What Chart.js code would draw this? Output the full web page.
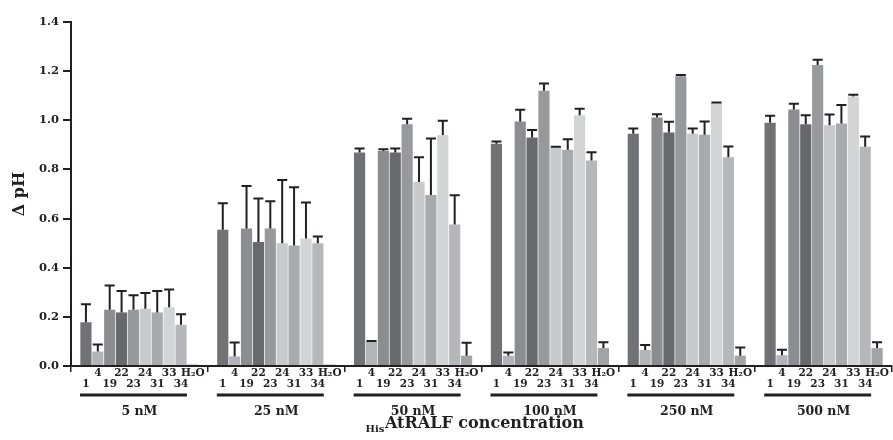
<!DOCTYPE html>
<html><head><meta charset="utf-8">
<script src="https://cdn.jsdelivr.net/npm/chart.js@4.4.1/dist/chart.umd.min.js"></script>
<style>html,body{margin:0;padding:0;background:#fff}#wrap{width:893px;height:440px}</style>
</head><body><div id="wrap"><canvas id="c" width="893" height="440"></canvas></div>
<script>
// ---- data ----
const concentrations = ['5 nM', '25 nM', '50 nM', '100 nM', '250 nM', '500 nM'];
const peptides = ['1', '4', '19', '22', '23', '24', '31', '33', '34', 'H₂O'];
const yTickValues = [0.0, 0.2, 0.4, 0.6, 0.8, 1.0, 1.2, 1.4];

const mean1  = [0.178, 0.554, 0.869, 0.905, 0.945, 0.990];
const mean4  = [0.059, 0.039, 0.100, 0.042, 0.065, 0.044];
const mean19 = [0.229, 0.560, 0.875, 0.995, 1.011, 1.044];
const mean22 = [0.218, 0.505, 0.869, 0.930, 0.950, 0.984];
const mean23 = [0.229, 0.560, 0.984, 1.120, 1.179, 1.225];
const mean24 = [0.233, 0.500, 0.749, 0.890, 0.945, 0.980];
const mean31 = [0.218, 0.490, 0.696, 0.880, 0.941, 0.987];
const mean33 = [0.239, 0.519, 0.940, 1.021, 1.070, 1.097];
const mean34 = [0.168, 0.500, 0.576, 0.836, 0.850, 0.892];
const meanH2O = [0.006, 0.006, 0.042, 0.073, 0.042, 0.073];

const sd1  = [0.073, 0.108, 0.016, 0.009, 0.022, 0.028];
const sd4  = [0.029, 0.057, 0.002, 0.013, 0.020, 0.022];
const sd19 = [0.099, 0.173, 0.007, 0.048, 0.014, 0.023];
const sd22 = [0.087, 0.177, 0.016, 0.030, 0.044, 0.036];
const sd23 = [0.059, 0.111, 0.022, 0.030, 0.005, 0.021];
const sd24 = [0.064, 0.257, 0.101, 0.002, 0.022, 0.044];
const sd31 = [0.087, 0.237, 0.230, 0.043, 0.054, 0.075];
const sd33 = [0.072, 0.146, 0.058, 0.026, 0.002, 0.007];
const sd34 = [0.043, 0.027, 0.119, 0.034, 0.043, 0.042];
const sdH2O = [0.000, 0.000, 0.053, 0.024, 0.033, 0.024];

const means = [mean1, mean4, mean19, mean22, mean23, mean24, mean31, mean33, mean34, meanH2O];
const sds = [sd1, sd4, sd19, sd22, sd23, sd24, sd31, sd33, sd34, sdH2O];
const barColors = ['#717276', '#b3b4b7', '#8c8d91', '#68696c', '#98999d', '#c9cacc', '#a9aaad', '#d3d4d6', '#b6b7ba', '#a2a3a6'];

// ---- style ----
const FONT = "'DejaVu Serif', 'Liberation Serif', serif";
const INK = '#231f20';
Chart.defaults.font.family = FONT;
Chart.defaults.color = INK;
const BAR_PCT = 0.94;

const errorBars = {
  id: 'errorBars',
  afterDatasetsDraw(chart) {
    const { ctx } = chart;
    const y = chart.scales.y;
    ctx.save();
    ctx.strokeStyle = INK;
    ctx.lineWidth = 2;
    chart.data.datasets.forEach((ds, di) => {
      chart.getDatasetMeta(di).data.forEach((bar, j) => {
        const sd = ds.sd[j];
        if (!sd) return;
        const top = y.getPixelForValue(ds.data[j] + sd);
        const half = bar.width * 0.45;
        ctx.beginPath();
        ctx.moveTo(bar.x, bar.y);
        ctx.lineTo(bar.x, top);
        ctx.moveTo(bar.x - half, top);
        ctx.lineTo(bar.x + half, top);
        ctx.stroke();
      });
    });
    ctx.restore();
  }
};

const groupDecor = {
  id: 'groupDecor',
  afterDraw(chart) {
    const { ctx, chartArea } = chart;
    const base = chartArea.bottom;
    ctx.save();
    ctx.fillStyle = INK;
    ctx.textAlign = 'center';
    ctx.textBaseline = 'middle';
    ctx.font = `bold 10.5px ${FONT}`;
    chart.data.labels.forEach((lab, j) => {
      chart.data.datasets.forEach((ds, di) => {
        const bar = chart.getDatasetMeta(di).data[j];
        const yy = base + (di % 2 === 1 ? 7.5 : 18.5);
        ctx.fillText(ds.label, bar.x, yy);
      });
      const first = chart.getDatasetMeta(0).data[j];
      const last = chart.getDatasetMeta(8).data[j];
      const x0 = first.x - first.width / 2 / BAR_PCT;
      const x1 = last.x + last.width / 2 / BAR_PCT;
      ctx.fillRect(x0, base + 27.5, x1 - x0, 3);
    });
    // x axis title with subscript "His"
    ctx.textAlign = 'left';
    ctx.textBaseline = 'alphabetic';
    const mainTxt = 'AtRALF concentration', subTxt = 'His';
    ctx.font = `bold 16px ${FONT}`;
    const mainW = ctx.measureText(mainTxt).width;
    ctx.font = `bold 10px ${FONT}`;
    const subW = ctx.measureText(subTxt).width;
    const cx = (chartArea.left + chartArea.right) / 2 - 7;
    const sx = cx - (mainW + subW) / 2;
    ctx.fillText(subTxt, sx, 432);
    ctx.font = `bold 16px ${FONT}`;
    ctx.fillText(mainTxt, sx + subW + 0.5, 427.5);
    ctx.restore();
  }
};

new Chart(document.getElementById('c'), {
  type: 'bar',
  data: {
    labels: concentrations,
    datasets: peptides.map((p, i) => ({
      label: p,
      data: means[i],
      sd: sds[i],
      backgroundColor: barColors[i],
      borderWidth: 0,
      categoryPercentage: 0.8686,
      barPercentage: BAR_PCT
    }))
  },
  options: {
    responsive: false,
    animation: false,
    layout: { padding: { top: 22, right: 1, left: 0, bottom: 0 } },
    plugins: { legend: { display: false }, tooltip: { enabled: false } },
    scales: {
      x: {
        grid: { offset: true, drawOnChartArea: false, color: INK, lineWidth: 1.5, tickLength: 6 },
        border: { color: INK, width: 2 },
        ticks: { font: { size: 12.5, weight: 'bold' }, padding: 32, color: INK },
        afterFit(s) { s.height = 74; }
      },
      y: {
        min: 0, max: 1.4,
        afterBuildTicks(s) { s.ticks = yTickValues.map(v => ({ value: v })); },
        ticks: { callback: v => Number(v).toFixed(1), font: { size: 11.5, weight: 'bold' }, padding: 4, color: INK },
        grid: { drawOnChartArea: false, color: INK, lineWidth: 2, tickLength: 8 },
        border: { color: INK, width: 2 },
        title: { display: true, text: 'Δ pH', font: { size: 16, weight: 'bold' }, padding: { top: 10, bottom: 0 }, color: INK },
        afterFit(s) { s.width = 71; }
      }
    }
  },
  plugins: [errorBars, groupDecor]
});
</script>
</body></html>
